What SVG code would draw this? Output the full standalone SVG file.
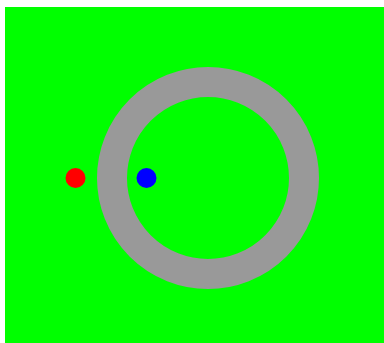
<svg xmlns="http://www.w3.org/2000/svg" width="384" height="343" viewBox="0 0 384 343">
<rect width="384" height="343" fill="#ffffff"/>
<rect x="5" y="7" width="379" height="336" fill="#00ff00"/>
<g id="ring"><circle cx="208" cy="178" r="96" fill="none" stroke="#999999" stroke-width="30"/></g>
<g id="red"><circle cx="75.5" cy="178" r="10" fill="#ff0000"/></g>
<g id="blue"><circle cx="146.5" cy="178" r="10" fill="#0000ff"/></g>
</svg>
